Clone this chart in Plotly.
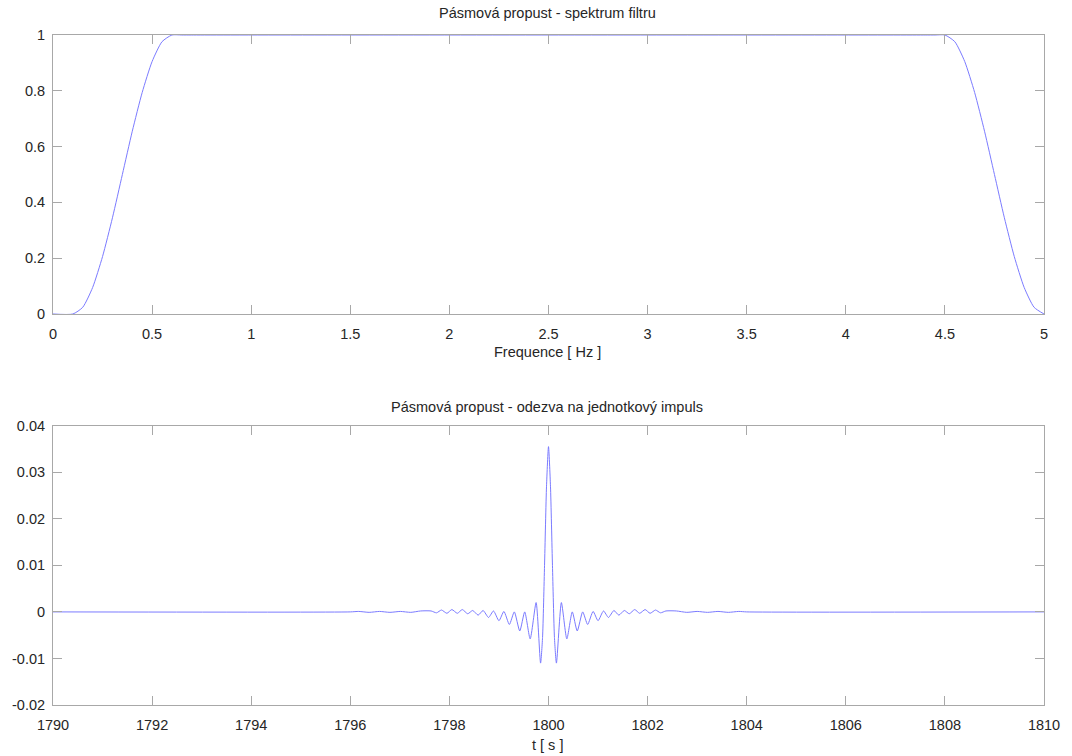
import plotly.graph_objects as go
from plotly.subplots import make_subplots

# Band-pass magnitude spectrum (frequency in Hz, gain)
freq_hz = [0.0, 0.10, 0.15, 0.20, 0.25, 0.30, 0.35, 0.40, 0.45, 0.50, 0.55, 0.60,
           0.65, 0.70, 4.40, 4.45,
           4.50, 4.55, 4.60, 4.65, 4.70, 4.75, 4.80, 4.85, 4.90, 4.95, 5.00]
gain = [0.0, 0.0, 0.024, 0.095, 0.206, 0.345, 0.50, 0.655, 0.794, 0.905, 0.976, 1.0,
        1.0, 1.0, 1.0, 1.0,
        1.0, 0.976, 0.905, 0.794, 0.655, 0.50, 0.345, 0.206, 0.095, 0.024, 0.0]

# Impulse response (time in s, amplitude)
t_s = [1790.0, 1796.0,
       1796.17, 1796.38, 1796.59, 1796.80, 1797.01, 1797.22, 1797.42, 1797.63,
       1797.74, 1797.84, 1797.95, 1798.05, 1798.16, 1798.26, 1798.37, 1798.47,
       1798.58, 1798.68, 1798.79, 1798.89, 1799.00, 1799.10, 1799.21, 1799.31,
       1799.42, 1799.52, 1799.63, 1799.75, 1799.84,
       1799.88, 1799.92, 1799.96, 1800.00, 1800.04, 1800.08, 1800.12,
       1800.16, 1800.26, 1800.37, 1800.48, 1800.58, 1800.69, 1800.79, 1800.90,
       1801.00, 1801.11, 1801.21, 1801.32, 1801.42, 1801.53, 1801.63, 1801.74,
       1801.84, 1801.95, 1802.05, 1802.16, 1802.26,
       1802.37, 1802.58, 1802.79, 1803.00, 1803.21, 1803.42, 1803.63, 1803.84,
       1804.0, 1810.0]
h = [0.0, 0.0,
     0.0001, -0.0001, 0.0001, -0.0001, 0.0001, -0.0001, 0.0002, 0.0002,
     -0.0002, 0.0004, -0.0003, 0.0005, -0.0003, 0.0005, -0.0004, 0.0003,
     -0.0007, 0.0003, -0.0012, 0.0002, -0.0019, 0.0001, -0.0027, 0.0000,
     -0.0041, 0.0000, -0.0058, 0.0020, -0.0110,
     -0.0055, 0.0100, 0.0270, 0.0355, 0.0270, 0.0100, -0.0055,
     -0.0110, 0.0020, -0.0058, 0.0000, -0.0041, 0.0000, -0.0027, 0.0001,
     -0.0019, 0.0002, -0.0012, 0.0003, -0.0007, 0.0003, -0.0004, 0.0005,
     -0.0003, 0.0005, -0.0003, 0.0004, -0.0002,
     0.0002, 0.0002, -0.0001, 0.0001, -0.0001, 0.0001, -0.0001, 0.0001,
     0.0, 0.0]

# Tick labels
spec_x_ticks = [0, 0.5, 1, 1.5, 2, 2.5, 3, 3.5, 4, 4.5, 5]
spec_x_labels = ["0", "0.5", "1", "1.5", "2", "2.5", "3", "3.5", "4", "4.5", "5"]
spec_y_ticks = [0, 0.2, 0.4, 0.6, 0.8, 1]
spec_y_labels = ["0", "0.2", "0.4", "0.6", "0.8", "1"]
imp_x_ticks = list(range(1790, 1811, 2))
imp_x_labels = [str(v) for v in imp_x_ticks]
imp_y_ticks = [-0.02, -0.01, 0, 0.01, 0.02, 0.03, 0.04]
imp_y_labels = ["-0.02", "-0.01", "0", "0.01", "0.02", "0.03", "0.04"]

LINE = "#7b7bff"
AX = "#a8a8a8"
FONT = "Liberation Sans, Arial, sans-serif"
TXT = "#262626"
FS = 14.5

fig = make_subplots(rows=2, cols=1)

fig.add_trace(go.Scatter(x=freq_hz, y=gain, mode="lines",
                         line=dict(color=LINE, width=1, shape="spline", smoothing=0.6),
                         showlegend=False), row=1, col=1)
fig.add_trace(go.Scatter(x=t_s, y=h, mode="lines",
                         line=dict(color=LINE, width=1, shape="spline", smoothing=0.6),
                         showlegend=False), row=2, col=1)

axis_common = dict(showgrid=False, zeroline=False, showline=True, linecolor=AX,
                   linewidth=1, mirror="allticks", ticks="inside", ticklen=9,
                   tickcolor=AX, tickwidth=1,
                   tickfont=dict(family=FONT, size=FS, color=TXT))

fig.update_xaxes(**axis_common, ticklabelstandoff=7)
fig.update_yaxes(**axis_common, ticklabelstandoff=4)

fig.update_xaxes(range=[0, 5], tickvals=spec_x_ticks, ticktext=spec_x_labels,
                 domain=[0, 1], row=1, col=1)
fig.update_yaxes(range=[0, 1], tickvals=spec_y_ticks, ticktext=spec_y_labels,
                 domain=[0.5836, 1], row=1, col=1)
fig.update_xaxes(range=[1790, 1810], tickvals=imp_x_ticks, ticktext=imp_x_labels,
                 domain=[0, 1], row=2, col=1)
fig.update_yaxes(range=[-0.02, 0.04], tickvals=imp_y_ticks, ticktext=imp_y_labels,
                 domain=[0, 0.4169], row=2, col=1)

texts = [
    ("Pásmová propust - spektrum filtru", 1.0328),
    ("Frequence [ Hz ]", 0.5269),
    ("Pásmová propust - odezva na jednotkový impuls", 0.4448),
    ("t [ s ]", -0.0597),
]
for txt, ypos in texts:
    fig.add_annotation(text=txt, xref="paper", yref="paper", x=0.4987, y=ypos,
                       xanchor="center", yanchor="middle", showarrow=False,
                       font=dict(family=FONT, size=FS, color=TXT))

fig.update_layout(width=1072, height=756,
                  margin=dict(l=51, r=25, t=35, b=51),
                  paper_bgcolor="white", plot_bgcolor="white")

fig.write_html("out.html")
